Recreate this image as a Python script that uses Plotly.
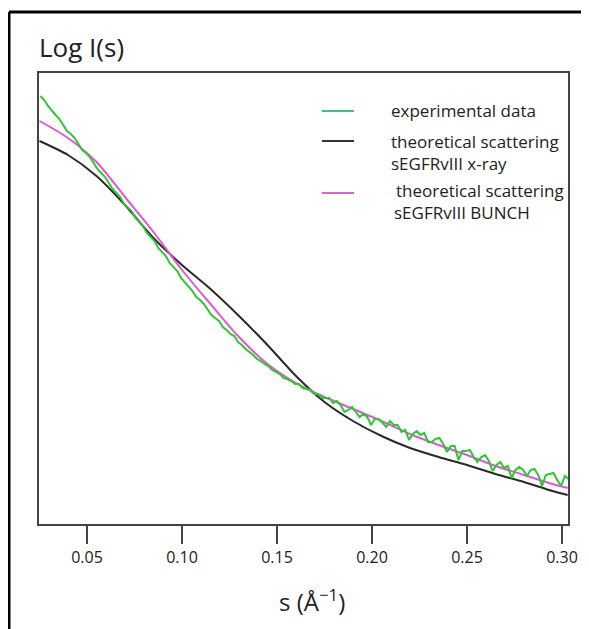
import numpy as np
import plotly.graph_objects as go

# ---------------- data ----------------
# experimental data: s grid (1/A) and log I(s) (arbitrary units)
s_exp = np.round(0.0255 + 0.002 * np.arange(140), 4)
logI_exp = [
    4.28, 4.24, 4.18, 4.13, 4.09, 4.05, 3.99, 3.93, 3.90, 3.86,
    3.80, 3.74, 3.71, 3.67, 3.61, 3.55, 3.51, 3.47, 3.41, 3.35,
    3.31, 3.27, 3.20, 3.16, 3.13, 3.06, 3.02, 2.98, 2.91, 2.87,
    2.83, 2.76, 2.72, 2.68, 2.61, 2.57, 2.53, 2.46, 2.42, 2.38,
    2.33, 2.27, 2.24, 2.20, 2.15, 2.09, 2.06, 2.03, 1.97, 1.94,
    1.90, 1.88, 1.82, 1.79, 1.75, 1.72, 1.69, 1.65, 1.63, 1.60,
    1.58, 1.54, 1.52, 1.50, 1.46, 1.45, 1.43, 1.40, 1.40, 1.36,
    1.35, 1.34, 1.30, 1.30, 1.26,
    1.26, 1.26, 1.21, 1.23, 1.19, 1.12, 1.14, 1.17, 1.12, 1.07,
    1.10, 1.07, 0.99, 1.05, 1.05, 1.01, 0.97, 1.03, 0.99, 0.99,
    0.92, 0.94, 0.84, 0.90, 0.93, 0.89, 0.91, 0.82, 0.82, 0.85,
    0.86, 0.80, 0.72, 0.78, 0.78, 0.64, 0.73, 0.73, 0.74, 0.67,
    0.62, 0.67, 0.69, 0.63, 0.53, 0.59, 0.62, 0.56, 0.58, 0.46,
    0.54, 0.57, 0.54, 0.48, 0.54, 0.55, 0.49, 0.38, 0.49, 0.50,
    0.51, 0.44, 0.38, 0.48, 0.45,
]

# theoretical curves
s_theo = [0.025, 0.04, 0.055, 0.07, 0.085, 0.10, 0.115, 0.13, 0.145, 0.16,
          0.175, 0.19, 0.205, 0.22, 0.235, 0.25, 0.265, 0.28, 0.295, 0.303]
logI_xray = [3.83, 3.69, 3.48, 3.19, 2.86, 2.59, 2.35, 2.08, 1.79, 1.48,
             1.22, 1.03, 0.88, 0.76, 0.67, 0.59, 0.50, 0.42, 0.33, 0.29]
logI_bunch = [4.03, 3.86, 3.62, 3.27, 2.92, 2.54, 2.20, 1.87, 1.60, 1.41,
              1.27, 1.15, 1.03, 0.90, 0.79, 0.69, 0.58, 0.49, 0.40, 0.36]

x_ticks = [0.05, 0.10, 0.15, 0.20, 0.25, 0.30]
legend_labels = [
    ["experimental data"],
    ["theoretical scattering", "sEGFRvIII x-ray"],
    ["theoretical scattering", "sEGFRvIII BUNCH"],
]

# ---------------- layout helpers ----------------
# the page body has an 8px margin, so all reference pixel positions are shifted by OFF
OFF = 8
W, H = 589 - OFF, 629 - OFF
L, R, T, B = 39 - OFF, 568 - OFF, 73 - OFF, 524 - OFF
FONT = "Open Sans"


def px(xp):
    return (xp - OFF - L) / (R - L)


def py(yp):
    return (B - (yp - OFF)) / (B - T)


GREEN = "rgb(45,200,45)"
BLACK = "#2a2a2a"
PINK = "rgb(225,85,220)"

fig = go.Figure()
fig.add_trace(go.Scatter(x=s_theo, y=logI_xray, mode="lines", name="theoretical scattering sEGFRvIII x-ray",
                         line=dict(color=BLACK, width=2, shape="spline", smoothing=0.8)))
fig.add_trace(go.Scatter(x=s_theo, y=logI_bunch, mode="lines", name="theoretical scattering sEGFRvIII BUNCH",
                         line=dict(color=PINK, width=2, shape="spline", smoothing=0.8)))
fig.add_trace(go.Scatter(x=s_exp, y=logI_exp, mode="lines", name="experimental data",
                         line=dict(color=GREEN, width=2)))

annotations = []
shapes = []

# manual legend
leg_line_colors = ["rgb(70,190,130)", "#333333", "rgb(220,100,200)"]
leg_line_y = [111, 141, 193]
leg_text = [
    [(389, 111, legend_labels[0][0])],
    [(389, 141, legend_labels[1][0]), (389, 163, legend_labels[1][1])],
    [(394, 190, legend_labels[2][0]), (392, 212, legend_labels[2][1])],
]
for c, yl, texts in zip(leg_line_colors, leg_line_y, leg_text):
    shapes.append(dict(type="line", xref="paper", yref="paper",
                       x0=px(322), x1=px(354), y0=py(yl), y1=py(yl),
                       line=dict(color=c, width=2)))
    for (tx, ty, t) in texts:
        annotations.append(dict(text=t, xref="paper", yref="paper", x=px(tx), y=py(ty),
                                xanchor="left", yanchor="middle", showarrow=False,
                                font=dict(family=FONT, size=17, color="#222")))

# y title
annotations.append(dict(text="Log I(s)", xref="paper", yref="paper", x=px(37), y=py(47),
                        xanchor="left", yanchor="middle", showarrow=False,
                        font=dict(family=FONT, size=26, color="#222")))
# x title
annotations.append(dict(text="s (Å<sup>−1</sup>)", xref="paper", yref="paper", x=px(312), y=py(600),
                        xanchor="center", yanchor="middle", showarrow=False,
                        font=dict(family=FONT, size=24, color="#222")))

# outer frame (left and top edges)
shapes.append(dict(type="line", xref="paper", yref="paper", x0=px(9), x1=px(9), y0=py(12), y1=py(660),
                   line=dict(color="black", width=3)))
shapes.append(dict(type="line", xref="paper", yref="paper", x0=px(9), x1=px(620), y0=py(12), y1=py(12),
                   line=dict(color="black", width=3)))

fig.update_layout(
    width=W, height=H,
    margin=dict(l=L, r=W - R, t=T, b=H - B, pad=0),
    paper_bgcolor="white", plot_bgcolor="white",
    showlegend=False,
    annotations=annotations, shapes=shapes,
    font=dict(family=FONT, color="#222"),
    xaxis=dict(range=[0.02474, 0.30316], tickvals=x_ticks, tickformat=".2f",
               ticks="outside", ticklen=18, tickwidth=2, tickcolor="#444",
               showline=True, linecolor="#444", linewidth=2, mirror=True,
               showgrid=False, zeroline=False,
               tickfont=dict(family=FONT, size=16, color="#222")),
    yaxis=dict(range=[0, 4.51], showticklabels=False, ticks="",
               showline=True, linecolor="#444", linewidth=2, mirror=True,
               showgrid=False, zeroline=False),
)

fig.write_html("out.html")
